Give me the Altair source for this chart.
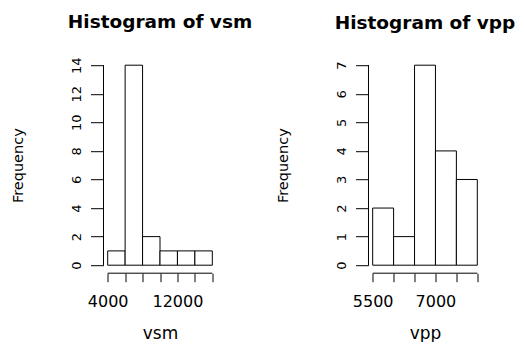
import altair as alt
import pandas as pd

# ---- data ----
vsm_breaks = [4000, 6000, 8000, 10000, 12000, 14000, 16000]
vsm_counts = [1, 14, 2, 1, 1, 1]
vsm_yticks = [0, 2, 4, 6, 8, 10, 12, 14]
vsm_labels = [4000, 12000]

vpp_breaks = [5500, 6000, 6500, 7000, 7500, 8000]
vpp_counts = [2, 1, 7, 4, 3]
vpp_yticks = [0, 1, 2, 3, 4, 5, 6, 7]
vpp_labels = [5500, 7000]

FONT = "DejaVu Sans"
W, H = 113, 216


def panel(name, breaks, counts, yticks, labels):
    df = pd.DataFrame({"start": breaks[:-1], "end": breaks[1:], "count": counts})
    xr = breaks[-1] - breaks[0]
    xdom = [breaks[0] - 0.04 * xr, breaks[-1] + 0.04 * xr]
    yr = yticks[-1] - yticks[0]
    ydom = [yticks[0] - 0.04 * yr, yticks[-1] + 0.04 * yr]

    xs = alt.Scale(domain=xdom, nice=False, zero=False)
    ys = alt.Scale(domain=ydom, nice=False, zero=False)

    lab_test = " || ".join(f"datum.value == {v}" for v in labels)
    xaxis = alt.Axis(values=breaks, tickCount=len(breaks), domain=False, grid=False,
                     tickSize=8.5, tickColor="black", tickWidth=1,
                     labelExpr=f"({lab_test}) ? datum.label : ''",
                     format="d", labelFont=FONT, labelFontSize=16, labelColor="black",
                     labelPadding=12, labelOverlap=False, labelFlush=False,
                     title=name, titleFont=FONT, titleFontSize=17, titleFontWeight="normal",
                     titleColor="black", titlePadding=16)
    yaxis = alt.Axis(values=yticks, tickCount=len(yticks), domain=False, grid=False,
                     tickSize=13, tickColor="black", tickWidth=1, labelAngle=270,
                     labelAlign="center", labelBaseline="bottom", labelFont=FONT,
                     labelFontSize=13, labelColor="black", labelPadding=7,
                     labelOverlap=False, labelFlush=False,
                     title="Frequency", titleFont=FONT, titleFontSize=14.5,
                     titleFontWeight="normal", titleColor="black", titlePadding=45)

    bars = alt.Chart(df).mark_rect(fill="white", stroke="black", strokeWidth=1).encode(
        x=alt.X("start:Q", scale=xs, axis=xaxis),
        x2="end:Q",
        y=alt.Y("count:Q", scale=ys, axis=yaxis),
        y2=alt.datum(0),
    )
    xline = alt.Chart(pd.DataFrame({"a": [breaks[0]], "b": [breaks[-1]], "lvl": [ydom[0]]})).mark_rule(
        color="black", strokeWidth=1).encode(
        x=alt.X("a:Q", scale=xs), x2="b:Q", y=alt.Y("lvl:Q", scale=ys))
    yline = alt.Chart(pd.DataFrame({"a": [yticks[0]], "b": [yticks[-1]], "lvl": [xdom[0]]})).mark_rule(
        color="black", strokeWidth=1).encode(
        y=alt.Y("a:Q", scale=ys), y2="b:Q", x=alt.X("lvl:Q", scale=xs))
    return alt.layer(bars, xline, yline).properties(
        width=W, height=H,
        title=alt.TitleParams(f"Histogram of {name}", font=FONT, fontSize=18.5,
                              fontWeight="bold", color="black", anchor="middle", offset=25),
    )


chart = alt.hconcat(
    panel("vsm", vsm_breaks, vsm_counts, vsm_yticks, vsm_labels),
    panel("vpp", vpp_breaks, vpp_counts, vpp_yticks, vpp_labels),
    spacing=152, bounds="flush",
).properties(padding={"left": 1.5, "top": 5.2, "right": 0, "bottom": 0}
).configure(background="white").configure_view(strokeWidth=0)

chart.save("out.html", embed_options={"renderer": "svg", "actions": False})
